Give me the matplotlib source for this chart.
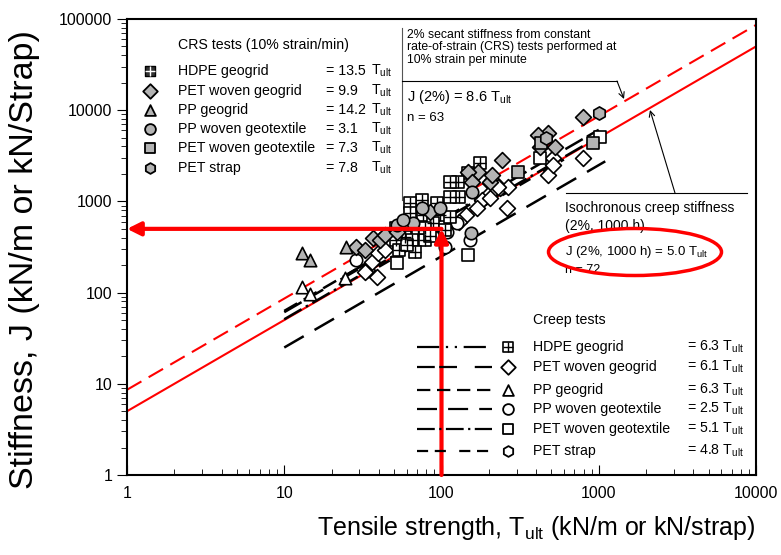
import matplotlib
matplotlib.use('Agg')
import matplotlib.pyplot as plt
from matplotlib.patches import Ellipse
import numpy as np

plt.rcParams['font.family'] = ['Liberation Sans', 'DejaVu Sans']
plt.rcParams['mathtext.default'] = 'regular'

# CRS tests (2% secant stiffness), T_ult in kN/m, J in kN/m
hdpe_crs_T = [175, 147, 127, 113, 130, 113, 93, 75, 63, 63, 76, 98, 113, 88, 71, 59, 51, 65, 78, 54, 68, 78, 105, 51, 60, 85]
hdpe_crs_J = [2640, 2050, 1630, 1630, 1120, 1120, 960, 1035, 960, 746, 710, 710, 675, 580, 486, 407, 377, 377, 377, 293, 279, 511, 486, 511, 330, 420]
petgg_crs_T = [799, 476, 410, 422, 527, 242, 170, 202, 147, 211, 156, 28.6, 32.7, 36.6, 40.7, 44, 84, 52]
petgg_crs_J = [8420, 5630, 5350, 3950, 3950, 2830, 2100, 1630, 2100, 1950, 1630, 316, 293, 397, 377, 430, 760, 462]
ppgg_crs_T = [13.0, 14.6, 24.7]
ppgg_crs_J = [272, 228, 316]
ppwg_crs_T = [52, 66, 57, 156, 98, 75, 154]
ppwg_crs_J = [551, 580, 625, 1270, 850, 850, 454]
petwg_crs_T = [306, 920, 430]
petwg_crs_J = [2100, 4370, 4370]
strap_crs_T = [1010, 460]
strap_crs_J = [9310, 4920]

# creep tests (isochronous 2%, 1000 h)
petgg_cr_T = [33.6, 38.9, 36.1, 39.5, 43.8, 32.7, 202, 235, 202, 180, 168, 144, 130, 261, 476, 799, 512, 211, 512, 265, 228, 202, 98]
petgg_cr_J = [177, 148, 217, 272, 293, 168, 1590, 1400, 1240, 1035, 850, 710, 594, 850, 1950, 2990, 2990, 1720, 2505, 1440, 1440, 1090, 551]
ppwg_cr_T = [28.6, 125, 108, 151, 105]
ppwg_cr_J = [228, 580, 462, 377, 316]
petwg_cr_T = [52, 147, 422, 1025]
petwg_cr_J = [212, 258, 2990, 5080]
ppgg_cr_T = [13.0, 14.6, 24.4]
ppgg_cr_J = [115, 96, 144]

crs_names = ['HDPE geogrid', 'PET woven geogrid', 'PP geogrid', 'PP woven geotextile',
             'PET woven geotextile', 'PET strap']
crs_ratio = ['13.5', '9.9', '14.2', '3.1', '7.3', '7.8']
creep_ratio = [6.3, 6.1, 6.3, 2.5, 5.1, 4.8]
creep_range = [(25, 200), (10, 1000), (10, 40), (10, 1100), (10, 1000), (40, 600)]
creep_styles = [(0, (10, 3, 1, 3, 1, 3)), (0, (8, 2, 8, 8)), (0, (6, 3)),
                (0, (9, 5)), (0, (8, 2, 1, 2)), (0, (5, 3, 5, 6))]
markers = ['s', 'D', '^', 'o', 's', 'h']

crs_fit = 8.6
creep_fit = 5.0
T_example = 100

GRAY = '#b4b4b4'

fig = plt.figure(figsize=(7.81, 5.55), dpi=100)
ax = fig.add_axes([127 / 781, 80 / 555, 629 / 781, 456 / 555])
ax.set_xscale('log')
ax.set_yscale('log')
ax.set_xlim(1, 10000)
ax.set_ylim(1, 100000)


def fx(px):
    return (px - 127) / 629


def fy(py):
    return (475 - py) / 456


# reference lines
tt = np.array([1, 10000])
ax.plot(tt, crs_fit * tt, color='red', lw=1.5, ls=(0, (8, 4)), zorder=2)
ax.plot(tt, creep_fit * tt, color='red', lw=1.5, zorder=2)

# creep fit lines per product
for r, (t0, t1), ls in zip(creep_ratio, creep_range, creep_styles):
    t = np.array([t0, t1])
    ax.plot(t, r * t, color='black', lw=1.8, ls=ls, zorder=2)

mk = dict(edgecolors='black', linewidths=1.2, zorder=4)

# creep points (open)
ax.scatter(petgg_cr_T, petgg_cr_J, marker='D', s=65, facecolors='white', **mk)
ax.scatter(ppwg_cr_T, ppwg_cr_J, marker='o', s=80, facecolors='white', **mk)
ax.scatter(petwg_cr_T, petwg_cr_J, marker='s', s=80, facecolors='white', **mk)
ax.scatter(ppgg_cr_T, ppgg_cr_J, marker='^', s=80, facecolors='white', **mk)

# CRS points (filled / hatched)
ax.scatter(hdpe_crs_T, hdpe_crs_J, marker='s', s=80, facecolors='white', **mk)
ax.scatter(hdpe_crs_T, hdpe_crs_J, marker='+', s=80, color='black', linewidths=1.0, zorder=4)
ax.scatter(petgg_crs_T, petgg_crs_J, marker='D', s=65, facecolors=GRAY, **mk)
ax.scatter(ppgg_crs_T, ppgg_crs_J, marker='^', s=80, facecolors=GRAY, **mk)
ax.scatter(ppwg_crs_T, ppwg_crs_J, marker='o', s=80, facecolors=GRAY, **mk)
ax.scatter(petwg_crs_T, petwg_crs_J, marker='s', s=80, facecolors=GRAY, **mk)
ax.scatter(strap_crs_T, strap_crs_J, marker='h', s=90, facecolors=GRAY, **mk)

# worked example: T_ult = 100 -> J = 500
J_example = creep_fit * T_example
arr = dict(arrowstyle='-|>', color='red', lw=3, mutation_scale=20, shrinkA=0, shrinkB=0)
ax.annotate('', xy=(1, J_example), xytext=(T_example, J_example), arrowprops=arr, zorder=5)
ax.annotate('', xy=(T_example, J_example), xytext=(T_example, 1), arrowprops=arr, zorder=5)

# CRS legend block
tkw = dict(transform=ax.transAxes, fontsize=10.2, va='center')
ax.text(fx(178), fy(45), 'CRS tests (10% strain/min)', **tkw)
rows_crs = [71, 91, 110, 129, 148, 168]
for i, (name, val) in enumerate(zip(crs_names, crs_ratio)):
    y = fy(rows_crs[i])
    if i == 0:
        ax.scatter([fx(150)], [y], marker='s', s=60, facecolors='#333333', edgecolors='black',
                   transform=ax.transAxes, zorder=6)
        ax.scatter([fx(150)], [y], marker='+', s=60, color='white', linewidths=1.0,
                   transform=ax.transAxes, zorder=6)
    else:
        ax.scatter([fx(150)], [y], marker=markers[i], s=60 if markers[i] != 'D' else 55,
                   facecolors=GRAY, edgecolors='black', linewidths=1.3,
                   transform=ax.transAxes, zorder=6)
    ax.text(fx(178), y, name, **tkw)
    ax.text(fx(326), y, '= ' + val, **tkw)
    ax.text(fx(371), y, r'$\mathregular{T_{ult}}$', **tkw)

# CRS annotation
ax.plot([fx(402), fx(402)], [fy(28), fy(200)], color='#555555', lw=0.8, transform=ax.transAxes)
ax.plot([fx(402), fx(617)], [fy(81), fy(81)], color='black', lw=0.8, transform=ax.transAxes)
ax.annotate('', xy=(fx(624), fy(99)), xytext=(fx(617), fy(81)), xycoords='axes fraction',
            arrowprops=dict(arrowstyle='->', color='black', lw=0.8, shrinkA=0, shrinkB=0))
ax.text(fx(407), fy(29), '2% secant stiffness from constant\nrate-of-strain (CRS) tests performed at\n10% strain per minute',
        transform=ax.transAxes, fontsize=8.8, va='top', linespacing=1.05)
ax.text(fx(407), fy(97), r'J (2%) = 8.6 $\mathregular{T_{ult}}$', transform=ax.transAxes, fontsize=10.5, va='center')
ax.text(fx(407), fy(118), 'n = 63', transform=ax.transAxes, fontsize=9.5, va='center')

# isochronous annotation
ax.plot([fx(566), fx(747)], [fy(193), fy(193)], color='black', lw=0.8, transform=ax.transAxes)
ax.annotate('', xy=(fx(650), fy(110)), xytext=(fx(675), fy(193)), xycoords='axes fraction',
            arrowprops=dict(arrowstyle='->', color='black', lw=0.8, shrinkA=0, shrinkB=0))
ax.text(fx(565), fy(208), 'Isochronous creep stiffness', transform=ax.transAxes, fontsize=10, va='center')
ax.text(fx(565), fy(226), '(2%, 1000 h)', transform=ax.transAxes, fontsize=10, va='center')
ax.text(fx(565), fy(252), r'J (2%, 1000 h) = 5.0 $\mathregular{T_{ult}}$', transform=ax.transAxes,
        fontsize=9.5, va='center')
ax.text(fx(565), fy(270), 'n = 72', transform=ax.transAxes, fontsize=9, va='center')
ax.add_patch(Ellipse((fx(635), fy(252)), 173 / 629, 47 / 456, transform=ax.transAxes,
                     fill=False, edgecolor='red', lw=2.5, zorder=6))

# creep legend block
ax.text(fx(533), fy(320), 'Creep tests', **tkw)
rows_cr = [347, 367, 390, 409, 429, 451]
for i, name in enumerate(crs_names):
    y = fy(rows_cr[i])
    ax.plot([fx(417), fx(492)], [y, y], color='black', lw=1.6, ls=creep_styles[i],
            transform=ax.transAxes, zorder=6)
    if i == 0:
        ax.scatter([fx(508)], [y], marker='s', s=55, facecolors='white', edgecolors='black',
                   linewidths=1.2, transform=ax.transAxes, zorder=6)
        ax.scatter([fx(508)], [y], marker='+', s=55, color='black', linewidths=1.0,
                   transform=ax.transAxes, zorder=6)
    else:
        ax.scatter([fx(508)], [y], marker=markers[i], s=60 if markers[i] != 'D' else 55,
                   facecolors='white', edgecolors='black', linewidths=1.3,
                   transform=ax.transAxes, zorder=6)
    ax.text(fx(533), y, name, **tkw)
    ax.text(fx(687), y, r'= %.1f $\mathregular{T_{ult}}$' % creep_ratio[i], **tkw)

# axes styling
ax.set_xticks([1, 10, 100, 1000, 10000])
ax.set_xticklabels(['1', '10', '100', '1000', '10000'])
ax.set_yticks([1, 10, 100, 1000, 10000, 100000])
ax.set_yticklabels(['1', '10', '100', '1000', '10000', '100000'])
ax.tick_params(axis='x', which='both', direction='in', labelsize=11.5, pad=8)
ax.tick_params(axis='x', which='major', length=7)
ax.tick_params(axis='x', which='minor', length=4)
ax.tick_params(axis='y', which='both', direction='out', labelsize=11.5)
ax.tick_params(axis='y', which='major', length=7)
ax.tick_params(axis='y', which='minor', length=4)
for s in ax.spines.values():
    s.set_linewidth(1.5)

fig.text(755 / 781, 1 - 528 / 555, r'Tensile strength, $\mathregular{T_{ult}}$ (kN/m or kN/strap)',
         ha='right', va='center', fontsize=18)
fig.text(25 / 781, 1 - 260 / 555, 'Stiffness, J (kN/m or kN/Strap)', rotation=90,
         ha='center', va='center', fontsize=24.5)

fig.savefig('out.png', dpi=100)
